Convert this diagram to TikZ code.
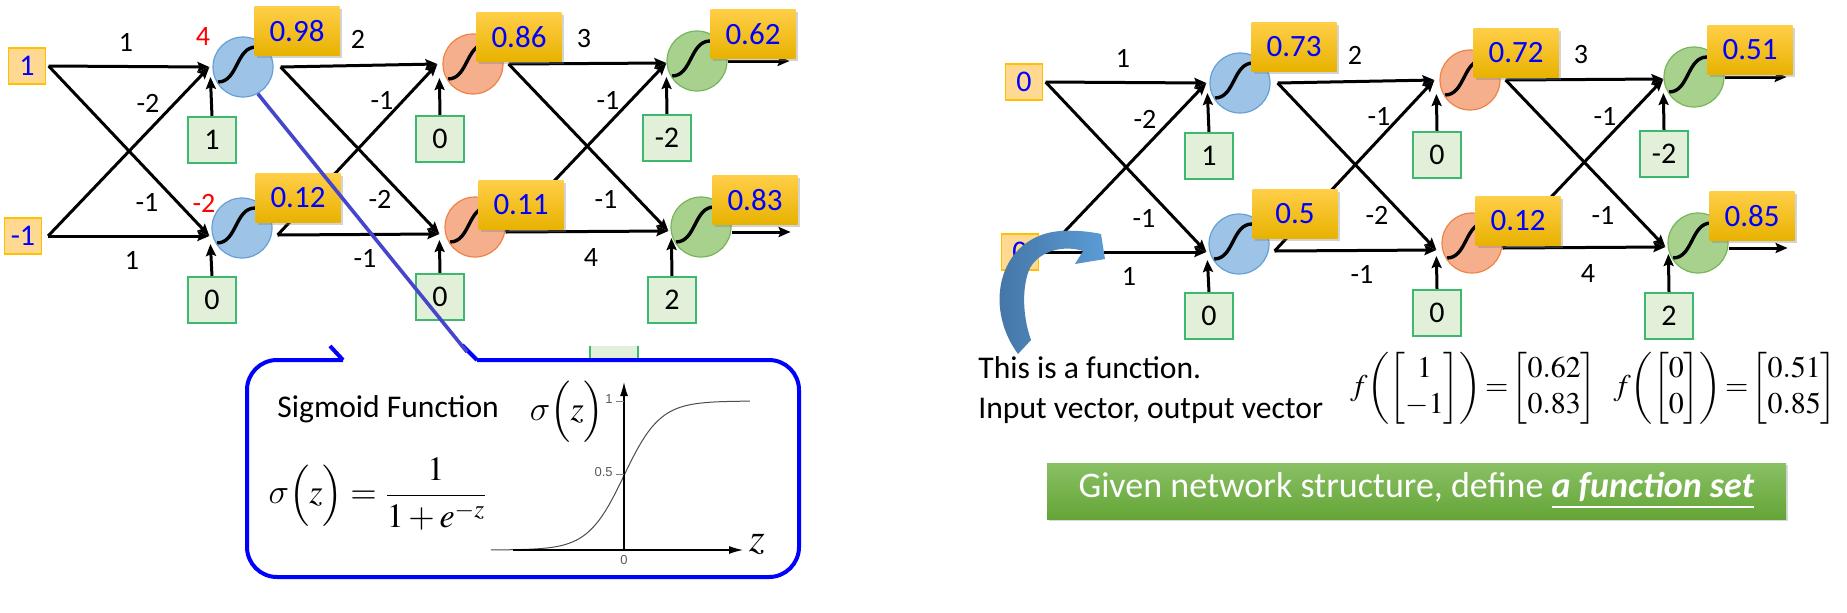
\documentclass[tikz,border=0pt]{standalone}
\usepackage{amsmath}
\usepackage{mathptmx}
\usepackage[no-math]{fontspec}
\setmainfont{Carlito}
\newfontfamily\axisfont{Liberation Sans}
\usetikzlibrary{arrows.meta,shadows,backgrounds}
\DeclareSymbolFont{cmletters}{OML}{cmm}{m}{it}
\DeclareMathSymbol{\sig}{\mathord}{cmletters}{"1B}

\definecolor{inFill}{RGB}{255,217,145}
\definecolor{inLine}{RGB}{255,192,0}
\definecolor{outTop}{RGB}{255,206,72}
\definecolor{outBot}{RGB}{232,178,0}
\definecolor{biasFill}{RGB}{226,240,217}
\definecolor{biasLine}{RGB}{60,185,110}
\definecolor{bluFill}{RGB}{157,195,230}
\definecolor{bluLine}{RGB}{100,160,215}
\definecolor{orgFill}{RGB}{245,175,140}
\definecolor{orgLine}{RGB}{240,130,70}
\definecolor{grnFill}{RGB}{169,209,142}
\definecolor{grnLine}{RGB}{120,180,90}
\definecolor{calloutBlue}{RGB}{0,0,255}
\definecolor{pointerBlue}{RGB}{70,70,205}
\definecolor{arrowDark}{RGB}{65,113,160}
\definecolor{arrowLight}{RGB}{91,155,213}
\definecolor{bannerTop}{RGB}{137,192,100}
\definecolor{bannerBot}{RGB}{100,165,55}

\tikzset{
  conn/.style={line width=1.5pt,-{Stealth[length=6pt,width=5pt,inset=1pt]}},
  neuron/.style={circle,minimum size=30pt,inner sep=0pt,line width=0.6pt,
    path picture={\draw[black,line width=1.7pt] (path picture bounding box.center)
      ++(-25,15) .. controls +(20,0) and +(-20,0) .. ++(38,-35);}},
  blueneuron/.style={neuron,draw=bluLine,fill=bluFill},
  orangeneuron/.style={neuron,draw=orgLine,fill=orgFill},
  greenneuron/.style={neuron,draw=grnLine,fill=grnFill},
  inbox/.style={rectangle,draw=inLine,fill=inFill,line width=0.6pt,
    minimum width=18.5pt,minimum height=18pt,inner sep=0pt,text=blue,
    font=\fontsize{15}{18}\selectfont},
  outbox/.style={rectangle,top color=outTop,bottom color=outBot,
    minimum width=42.5pt,minimum height=24.5pt,inner sep=0pt,text=blue,
    font=\fontsize{15.5}{18}\selectfont,
    drop shadow={opacity=0.35,shadow xshift=1pt,shadow yshift=-1pt}},
  biasbox/.style={rectangle,draw=biasLine,fill=biasFill,line width=0.6pt,
    minimum width=24pt,minimum height=23pt,inner sep=0pt,
    font=\fontsize{15}{18}\selectfont},
  wlabel/.style={inner sep=0pt,font=\fontsize{14}{16}\selectfont},
  redlabel/.style={wlabel,text=red},
  callout/.style={draw=calloutBlue,line width=2pt,fill=white},
  banner/.style={rectangle,top color=bannerTop,bottom color=bannerBot,
    minimum width=369.5pt,minimum height=28pt,inner sep=0pt,text=white,
    font=\fontsize{18}{21}\selectfont,
    drop shadow={opacity=0.3,shadow xshift=1pt,shadow yshift=-1.2pt}},
  plaintext/.style={anchor=base west,inner sep=0pt,font=\fontsize{15.8}{18}\selectfont},
  ticklabel/.style={inner sep=0pt,text=gray!70!black,font=\axisfont\fontsize{6.5}{7}\selectfont}
}

% one network: inputs #1 #2, outputs of the three layers #3..#8
\newcommand\fnet[8]{
  \node[inbox] (x1) at (27,66) {#1};
  \node[inbox] (x2) at (23,236) {#2};
  \node[blueneuron] (a1) at (243,67) {};
  \node[blueneuron] (a2) at (242,228) {};
  \node[orangeneuron] (c1) at (473,64) {};
  \node[orangeneuron] (c2) at (475,227) {};
  \node[greenneuron] (e1) at (697,61) {};
  \node[greenneuron] (e2) at (701,227) {};
  % biases
  \node[biasbox] (b1) at (212,140) {1};
  \node[biasbox] (b2) at (212,300) {0};
  \node[biasbox] (d1) at (440,139) {0};
  \node[biasbox] (d2) at (440,297) {0};
  \node[biasbox] (f1) at (667,138) {-2};
  \node[biasbox] (f2) at (672,300) {2};
  % weights
  \node[wlabel] (w11) at (126,42) {1};
  \node[wlabel] (w12) at (148,103) {-2};
  \node[wlabel] (w13) at (147,202) {-1};
  \node[wlabel] (w14) at (132,260) {1};
  \node[wlabel] (w21) at (358,39) {2};
  \node[wlabel] (w22) at (382,100) {-1};
  \node[wlabel] (w23) at (380,199) {-2};
  \node[wlabel] (w24) at (365,258) {-1};
  \node[wlabel] (w31) at (584,39) {3};
  \node[wlabel] (w32) at (608,100) {-1};
  \node[wlabel] (w33) at (606,199) {-1};
  \node[wlabel] (w34) at (591,258) {4};
  % neuron outputs
  \node[outbox] (y1) at (297,31) {#3};
  \node[outbox] (y2) at (298,198) {#4};
  \node[outbox] (z1) at (519,37) {#5};
  \node[outbox] (z2) at (521,205) {#6};
  \node[outbox] (o1) at (753,34) {#7};
  \node[outbox] (o2) at (755,200) {#8};
  % where the arrows start and end
  \coordinate (x1o) at ([xshift=1.25pt]x1.east);
  \coordinate (x2o) at ([xshift=3pt]x2.east);
  \coordinate (a1i) at ([xshift=-1.5pt]a1.west);
  \coordinate (a2i) at ([xshift=-1pt,yshift=-4pt]a2.west);
  \coordinate (a1o) at ([xshift=3.5pt]a1.east);
  \coordinate (a2o) at ([xshift=2.5pt,yshift=-3.5pt]a2.east);
  \coordinate (c1i) at ([xshift=-2.5pt]c1.west);
  \coordinate (c2i) at ([xshift=-2.5pt,yshift=-3.5pt]c2.west);
  \coordinate (c1o) at ([xshift=2.5pt]c1.east);
  \coordinate (c2o) at ([yshift=-2.5pt]c2.east);
  \coordinate (e1i) at ([yshift=-1pt]e1.west);
  \coordinate (e2i) at ([xshift=-1pt,yshift=-2pt]e2.west);
  \coordinate (e1o) at (e1.east);
  \coordinate (e2o) at ([yshift=-2.5pt]e2.east);
  \coordinate (e1end) at ([xshift=31pt]e1o);
  \coordinate (e2end) at ([xshift=29.5pt]e2o);
  \coordinate (a1b) at ([xshift=.5pt,yshift=-5pt]a1i);
  \coordinate (a2b) at ([xshift=.5pt,yshift=-4pt]a2i);
  \coordinate (c1b) at ([xshift=1pt,yshift=-7pt]c1i);
  \coordinate (c2b) at ([yshift=-3pt]c2i);
  \coordinate (e1b) at ([yshift=-7pt]e1i);
  \coordinate (e2b) at ([xshift=1.5pt,yshift=-3.5pt]e2i);
  \begin{scope}[on background layer]
    \foreach \s/\t in {x1o/a1i,x1o/a2i,x2o/a1i,x2o/a2i,
                       a1o/c1i,a1o/c2i,a2o/c1i,a2o/c2i,
                       c1o/e1i,c1o/e2i,c2o/e1i,c2o/e2i,
                       e1o/e1end,e2o/e2end}
      \draw[conn] (\s) -- (\t);
    \foreach \s/\t in {b1/a1b,b2/a2b,d1/c1b,d2/c2b,f1/e1b,f2/e2b}
      \draw[conn] (\s.north) -- (\t);
  \end{scope}
}

\begin{document}
\begin{tikzpicture}[x=0.5pt,y=-0.5pt]
  \useasboundingbox (0,0) rectangle (1847,612);

  % left network
  \begin{scope}[name prefix=L-]
    \fnet{1}{-1}{0.98}{0.12}{0.86}{0.11}{0.62}{0.83}
  \end{scope}
  \node[redlabel] (sum1) at (203,37) {4};
  \node[redlabel] (sum2) at (204,203) {-2};

  % right network
  \begin{scope}[shift={(997,16)},name prefix=R-]
    \fnet{0}{0}{0.73}{0.5}{0.72}{0.12}{0.51}{0.85}
  \end{scope}

  % callout with the sigmoid
  \fill[biasFill] (590,346) rectangle (638,360);
  \draw[biasLine,line width=0.6pt] (590,346) -- (590,360) (638,346) -- (638,360);
  \draw[callout,rounded corners=15pt] (343,360) -- (247,360) -- (247,577)
    -- (799,577) -- (799,360) -- (477,360);
  \draw[calloutBlue,line width=2pt] (343,360) -- (330,346);
  \draw[calloutBlue,line width=2pt] (477,360) -- (462,345);
  \coordinate (tip) at (467,352);
  \draw[pointerBlue,line width=1.8pt] (L-a1.-61) -- (tip);

  \node[plaintext] (sigt) at (277,417) {Sigmoid Function};
  \node[font=\fontsize{17}{21}\selectfont] (sigf) at (378,494)
    {$\displaystyle\sig\Bigl(z\Bigr)=\frac{1}{1+e^{-z}}$};

  \draw[gray!60!black,line width=0.5pt,domain=-7.4:7,samples=80]
    plot ({624+18*\x},{550-149/(1+exp(-\x))});
  \draw[line width=0.6pt,-{Latex[length=7pt,width=4pt]}] (513,550) -- (743,550);
  \draw[line width=0.6pt,-{Latex[length=7pt,width=4pt]}] (624,550) -- (624,382);
  \draw[gray,line width=0.4pt] (616,401) -- (624,401) (616,474) -- (624,474);
  \node[ticklabel,anchor=east] (t1) at (613,399) {1};
  \node[ticklabel,anchor=east] (t5) at (613,472) {0.5};
  \node[ticklabel,anchor=north] (t0) at (624,555) {0};
  \node[font=\fontsize{17}{21}\selectfont] (sigl) at (567,412) {$\sig\Bigl(z\Bigr)$};
  \node[font=\fontsize{20}{22}\selectfont] (zl) at (757,544) {$z$};

  % blue curved arrow
  \shade[left color=arrowDark,right color=arrowLight]
    (1018,354) .. controls (982,305) and (1000,236) .. (1060,231)
    .. controls (1078,230) and (1092,232) .. (1101,234) -- (1105,259) -- (1075,264)
    -- (1083,251) .. controls (1065,245) and (1040,250) .. (1030,268)
    .. controls (1022,285) and (1022,315) .. (1031,340) -- cycle;

  % texts on the right
  \node[plaintext] (fn1) at (978,378) {This is a function.};
  \node[plaintext] (fn2) at (978,418) {Input vector, output vector};
  \node[anchor=west,inner sep=0pt,font=\fontsize{15}{18}\selectfont] (eq1) at (1350,388)
    {$f\!\left(\begin{bmatrix}1\\-1\end{bmatrix}\right)\!=\!\begin{bmatrix}0.62\\0.83\end{bmatrix}$};
  \node[anchor=east,inner sep=0pt,font=\fontsize{15}{18}\selectfont] (eq2) at (1837,388)
    {$f\!\left(\begin{bmatrix}0\\0\end{bmatrix}\right)\!=\!\begin{bmatrix}0.51\\0.85\end{bmatrix}$};

  \node[banner] (set) at (1416.5,491)
    {Given network structure, define \underline{\textbf{\textit{a function set}}}};
\end{tikzpicture}
\end{document}
